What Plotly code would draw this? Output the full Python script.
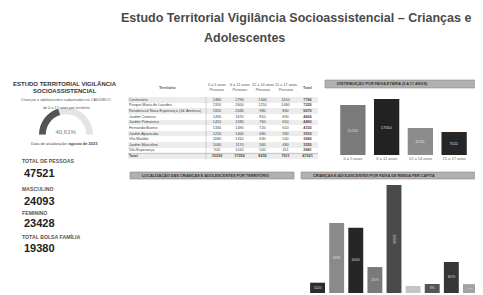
import plotly.graph_objects as go

W, H = 483, 295
OFF = 8  # page body margin of the rendered html
FONT = "Liberation Sans, Arial, sans-serif"

# ---------------- data ----------------
title_line1 = "Estudo Territorial Vigilância Socioassistencial – Crianças e"
title_line2 = "Adolescentes"

kpi_labels = ["TOTAL DE PESSOAS", "MASCULINO", "FEMININO", "TOTAL BOLSA FAMÍLIA"]
kpi_values = ["47521", "24093", "23428", "19380"]

gauge_value = 40.61

age_groups = ["0 a 5 anos", "6 a 11 anos", "12 a 14 anos", "15 a 17 anos"]
territories = ["Centenário", "Parque Maria de Lourdes", "Residencial Nova Esperança (Jd. América)",
               "Jardim Cisterna", "Jardim Primavera", "Fernando Bueno", "Jardim Aparecida",
               "Vila Matilde", "Jardim Marcelino", "Vila Esperança"]
col_0a5 = [2480, 2310, 1820, 1490, 1410, 1330, 1250, 1180, 1040, 920]
col_6a11 = [2790, 2600, 2030, 1670, 1580, 1490, 1400, 1310, 1170, 1010]
col_12a14 = [1340, 1250, 980, 810, 760, 720, 680, 630, 560, 500]
col_15a17 = [1150, 1060, 840, 690, 650, 610, 580, 540, 480, 411]

age_totals = [15230, 17050, 8230, 7011]
age_colors = ["#7a7a7a", "#222222", "#8c8c8c", "#262626"]

income_cats = ["Até R$ 105", "R$ 105 a 218", "R$ 218 a 660", "R$ 660 a 1320", "Acima de 1/2 SM",
               "Sem renda", "Não informado", "Bolsa Família", "Outros"]
income_values = [1020, 6930, 6450, 2570, 10690, 690, 890, 3070, 880]
income_colors = ["#2b2b2b", "#8a8a8a", "#262626", "#7a7a7a", "#4a4a4a",
                 "#c4c4c4", "#555555", "#363636", "#a3a3a3"]

header_top_right = "DISTRIBUIÇÃO POR FAIXA ETÁRIA (0 A 17 ANOS)"
header_bottom_left = "LOCALIZAÇÃO DAS CRIANÇAS E ADOLESCENTES POR TERRITÓRIO"
header_bottom_right = "CRIANÇAS E ADOLESCENTES POR FAIXA DE RENDA PER CAPITA"

# ---------------- helpers ----------------
def px(x):
    return (x - OFF) / W

def py(y):
    return 1 - (y - OFF) / H

fig = go.Figure()
ann = []

def text(x, y, s, size, color="#333", bold=False, anchor="center"):
    ann.append(dict(x=px(x), y=py(y), xref="paper", yref="paper", text=("<b>%s</b>" % s) if bold else s,
                    showarrow=False, xanchor=anchor, yanchor="middle",
                    font=dict(size=size, color=color, family=FONT)))

# ---------------- titles ----------------
text(296, 18, title_line1, 12.5, "#4a4a4a", True)
text(244, 38, title_line2, 12.5, "#4a4a4a", True)

# left panel
text(65, 84, "ESTUDO TERRITORIAL VIGILÂNCIA", 6, "#333", True)
text(65, 91, "SOCIOASSISTENCIAL", 6, "#333", True)
text(66, 100, "Crianças e adolescentes cadastrados no CADÚNICO", 3.8, "#555")
text(66, 108, "de 0 a 17 anos por território", 3.8, "#555")
text(64, 143, "Data de atualização: <b>agosto de 2023</b>", 4, "#444")

kpi_y = [(161, 173), (189, 201), (213, 223), (236, 248)]
for (ly, vy), lab, val in zip(kpi_y, kpi_labels, kpi_values):
    text(20, ly, lab, 5.2, "#555", True, "left")
    text(22, vy, val, 11, "#222", True, "left")

# ---------------- gauge ----------------
fig.add_trace(go.Indicator(
    mode="gauge+number", value=gauge_value,
    number=dict(suffix="%", valueformat=".2f", font=dict(size=6, color="#777", family=FONT)),
    gauge=dict(axis=dict(range=[0, 100], visible=False),
               bar=dict(color="#555555", thickness=1),
               bgcolor="#e4e4e4", borderwidth=0),
    domain=dict(x=[px(39), px(93)], y=[py(136), py(106)])))

# ---------------- table (drawn on its own axes) ----------------
col_widths = [78, 22, 23, 23, 23, 21]
edges = [sum(col_widths[:i]) for i in range(len(col_widths) + 1)]
centers = [(edges[i] + edges[i + 1]) / 2 for i in range(len(col_widths))]

tot_row = [sum(r) for r in zip(col_0a5, col_6a11, col_12a14, col_15a17)]
names = territories + ["<b>Total</b>"]
rows = list(range(len(names)))
cols_text = [
    [str(v) for v in col_0a5] + ["<b>%d</b>" % sum(col_0a5)],
    [str(v) for v in col_6a11] + ["<b>%d</b>" % sum(col_6a11)],
    [str(v) for v in col_12a14] + ["<b>%d</b>" % sum(col_12a14)],
    [str(v) for v in col_15a17] + ["<b>%d</b>" % sum(col_15a17)],
    ["<b>%d</b>" % v for v in tot_row] + ["<b>%d</b>" % sum(tot_row)],
]

fig.add_trace(go.Heatmap(z=[[i % 2] for i in rows], x0=edges[-1] / 2, dx=edges[-1], y0=0, dy=1,
                         colorscale=[[0, "#ececec"], [1, "#ffffff"]], showscale=False,
                         hoverinfo="skip", xaxis="x3", yaxis="y3"))
fig.add_trace(go.Scatter(x=[1] * len(names), y=rows, text=names, mode="text", textposition="middle right",
                         textfont=dict(size=3.8, color="#444", family=FONT), hoverinfo="skip",
                         xaxis="x3", yaxis="y3", showlegend=False))
for c, vals in zip(centers[1:], cols_text):
    fig.add_trace(go.Scatter(x=[c] * len(vals), y=rows, text=vals, mode="text", textposition="middle center",
                             textfont=dict(size=3.8, color="#444", family=FONT), hoverinfo="skip",
                             xaxis="x3", yaxis="y3", showlegend=False))

col_headers = ["<b>Território</b>"] + [g + "<br>Pessoas" for g in age_groups] + ["<b>Total</b>"]
for c, h in zip(centers, col_headers):
    ann.append(dict(x=c, y=py(88), xref="x3", yref="paper", text=h, showarrow=False,
                    xanchor="center", yanchor="middle",
                    font=dict(size=3.8, color="#555", family=FONT)))

# ---------------- top-right bars ----------------
fig.add_trace(go.Bar(x=age_groups, y=age_totals, marker=dict(color=age_colors, line=dict(width=0)),
                     width=0.75, texttemplate="%{y:d}", textposition="inside",
                     insidetextanchor="middle", textfont=dict(size=4, color="#dddddd", family=FONT),
                     xaxis="x", yaxis="y", showlegend=False))

# ---------------- bottom-right bars ----------------
fig.add_trace(go.Bar(x=income_cats, y=income_values, marker=dict(color=income_colors, line=dict(width=0)),
                     width=0.78, texttemplate="%{y:d}", textposition="inside",
                     insidetextanchor="middle", textfont=dict(size=3.5, color="#dddddd", family=FONT),
                     xaxis="x2", yaxis="y2", showlegend=False))

# ---------------- header strips & separators ----------------
shapes = []
for (x0, x1, y0, y1, label) in [(325, 480, 80, 88, header_top_right),
                                 (130, 294, 172, 179, header_bottom_left),
                                 (301, 480, 172, 179, header_bottom_right)]:
    shapes.append(dict(type="rect", xref="paper", yref="paper", x0=px(x0), x1=px(x1), y0=py(y1), y1=py(y0),
                       fillcolor="#b0b0b0", line=dict(color="#8a8a8a", width=0.6)))
    text(x0 + 10, (y0 + y1) / 2, label, 3.8, "#333", True, "left")

shapes.append(dict(type="line", xref="x3", yref="y3", x0=edges[1], x1=edges[1], y0=-0.5, y1=len(names) - 0.5,
                   line=dict(color="#bbbbbb", width=0.6)))
shapes.append(dict(type="line", xref="x3", yref="y3", x0=0, x1=edges[-1], y0=len(names) - 1.5,
                   y1=len(names) - 1.5, line=dict(color="#999999", width=0.5)))

fig.update_layout(
    width=W, height=H, margin=dict(l=0, r=0, t=0, b=0),
    paper_bgcolor="white", plot_bgcolor="rgba(0,0,0,0)",
    annotations=ann, shapes=shapes, separators=",.",
    xaxis=dict(domain=[px(336), px(471)], anchor="y", showgrid=False, zeroline=False, showline=False,
               ticks="", tickfont=dict(size=4, color="#666", family=FONT), fixedrange=True),
    yaxis=dict(domain=[py(155), py(95)], range=[0, 18300], visible=False, fixedrange=True),
    xaxis2=dict(domain=[px(308), px(480)], anchor="y2", showgrid=False, zeroline=False, showline=False,
                showticklabels=False, ticks="", fixedrange=True),
    yaxis2=dict(domain=[py(293), py(180)], range=[0, 11185], visible=False, fixedrange=True),
    xaxis3=dict(domain=[px(128), px(318)], anchor="y3", range=[0, edges[-1]], visible=False, fixedrange=True),
    yaxis3=dict(domain=[py(159), py(97)], range=[len(names) - 0.5, -0.5], visible=False, fixedrange=True),
    font=dict(family=FONT),
)

fig.write_html("out.html")
